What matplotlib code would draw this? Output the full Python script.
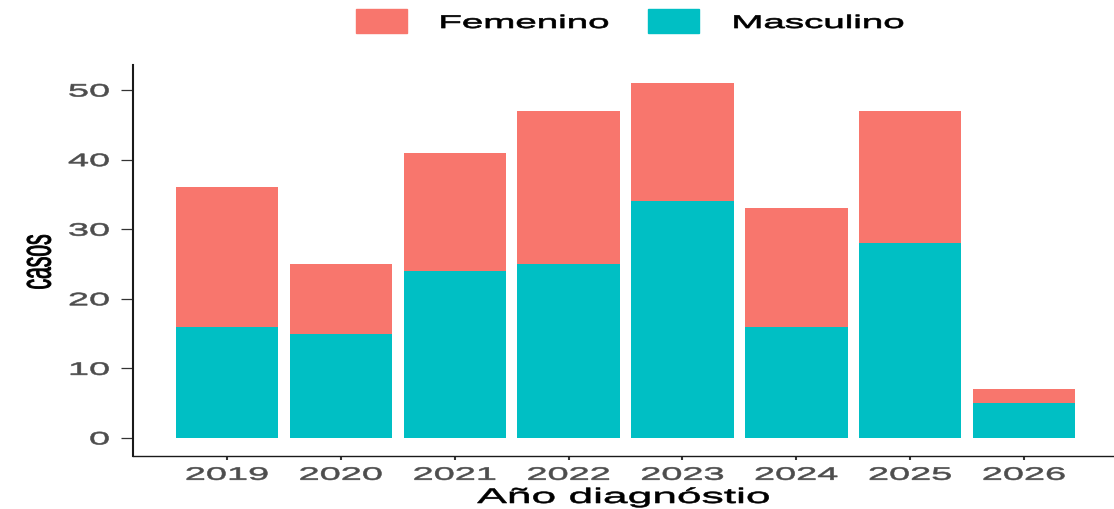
import matplotlib
matplotlib.use("Agg")
import matplotlib.pyplot as plt
from matplotlib.patheffects import AbstractPathEffect
from matplotlib.transforms import Affine2D
from matplotlib.patches import Rectangle
import numpy as np

# ---- data ----
years = ["2019", "2020", "2021", "2022", "2023", "2024", "2025", "2026"]
masculino = [16, 15, 24, 25, 34, 16, 28, 5]
femenino = [20, 10, 17, 22, 17, 17, 19, 2]
yticks = [0, 10, 20, 30, 40, 50]
series_names = ["Femenino", "Masculino"]
colors = {"Femenino": "#F8766D", "Masculino": "#00BFC4"}

plt.rcParams['font.family'] = ['Liberation Sans', 'DejaVu Sans']

STRETCH = 2.1


class HStretch(AbstractPathEffect):
    """Stretch text horizontally in display space (reference image is widened)."""
    def __init__(self, s=STRETCH, anchor='center', stroke=0.0):
        super().__init__()
        self.s = s
        self.anchor = anchor
        self.stroke = stroke

    def draw_path(self, renderer, gc, tpath, affine, rgbFace=None):
        ext = tpath.get_extents(affine)
        if self.anchor == 'center':
            ax_ = (ext.x0 + ext.x1) / 2
        elif self.anchor == 'right':
            ax_ = ext.x1
        else:
            ax_ = ext.x0
        t = affine + Affine2D().translate(-ax_, 0).scale(self.s, 1).translate(ax_, 0)
        if self.stroke > 0 and rgbFace is not None:
            gc0 = renderer.new_gc()
            gc0.copy_properties(gc)
            gc0.set_linewidth(self.stroke)
            gc0.set_foreground(rgbFace)
            renderer.draw_path(gc0, tpath, t, rgbFace)
            gc0.restore()
        else:
            renderer.draw_path(gc, tpath, t, rgbFace)


W, H = 1114, 509
fig = plt.figure(figsize=(W / 100, H / 100), dpi=100)
ax = fig.add_axes([133 / W, 1 - 455.7 / H, (W - 133) / W, (455.7 - 65) / H])

x = np.arange(len(years))
ax.bar(x, masculino, 0.9, color=colors["Masculino"], label="Masculino")
ax.bar(x, femenino, 0.9, bottom=masculino, color=colors["Femenino"], label="Femenino")

ax.set_xlim(-0.826, len(years) - 1 + 0.79)
ax.set_ylim(-2.55, 53.6)
ax.set_xticks(x)
ax.set_xticklabels(years)
ax.set_yticks(yticks)
ax.set_yticklabels([str(v) for v in yticks])

for s in ['top', 'right']:
    ax.spines[s].set_visible(False)
ax.spines['left'].set_linewidth(1.5)
ax.spines['bottom'].set_linewidth(1.0)
ax.spines['left'].set_color('#1a1a1a')
ax.spines['bottom'].set_color('#1a1a1a')

ax.tick_params(axis='x', length=3, width=1.5, pad=5, colors='#333333',
               labelsize=13, labelcolor='#4D4D4D')
ax.tick_params(axis='y', length=8.5, width=0.9, pad=8.5, colors='#333333',
               labelsize=13, labelcolor='#4D4D4D')

for lbl in ax.get_xticklabels():
    lbl.set_path_effects([HStretch(STRETCH, 'center', 0.4)])
for lbl in ax.get_yticklabels():
    lbl.set_path_effects([HStretch(STRETCH, 'right', 0.4)])

ax.set_xlabel("Año diagnóstio", fontsize=15.2, color='black')
ax.xaxis.label.set_va('baseline')
ax.xaxis.set_label_coords(0.5, (455.7 - 503) / (455.7 - 65))
ax.xaxis.label.set_path_effects([HStretch(STRETCH, 'center', 0.4)])

ax.set_ylabel("casos", fontsize=15.2, color='black')
ax.yaxis.label.set_va('center')
ax.yaxis.set_label_coords((39 - 133) / (W - 133), (455.7 - 262) / (455.7 - 65))
ax.yaxis.label.set_path_effects([HStretch(STRETCH, 'center', 0.6)])

# ---- legend (top, horizontal) ----
leg_patch_x = [356, 648]
leg_text_x = [440, 733]
for name, px, tx in zip(series_names, leg_patch_x, leg_text_x):
    fig.patches.append(Rectangle((px / W, 1 - 33 / H), 51 / W, 24 / H,
                                 transform=fig.transFigure, color=colors[name]))
    t = fig.text(tx / W, 1 - 28 / H, name, fontsize=13.2, color='black',
                 ha='left', va='baseline')
    t.set_path_effects([HStretch(STRETCH, 'left', 0.5)])

fig.savefig("out.png", dpi=100)
